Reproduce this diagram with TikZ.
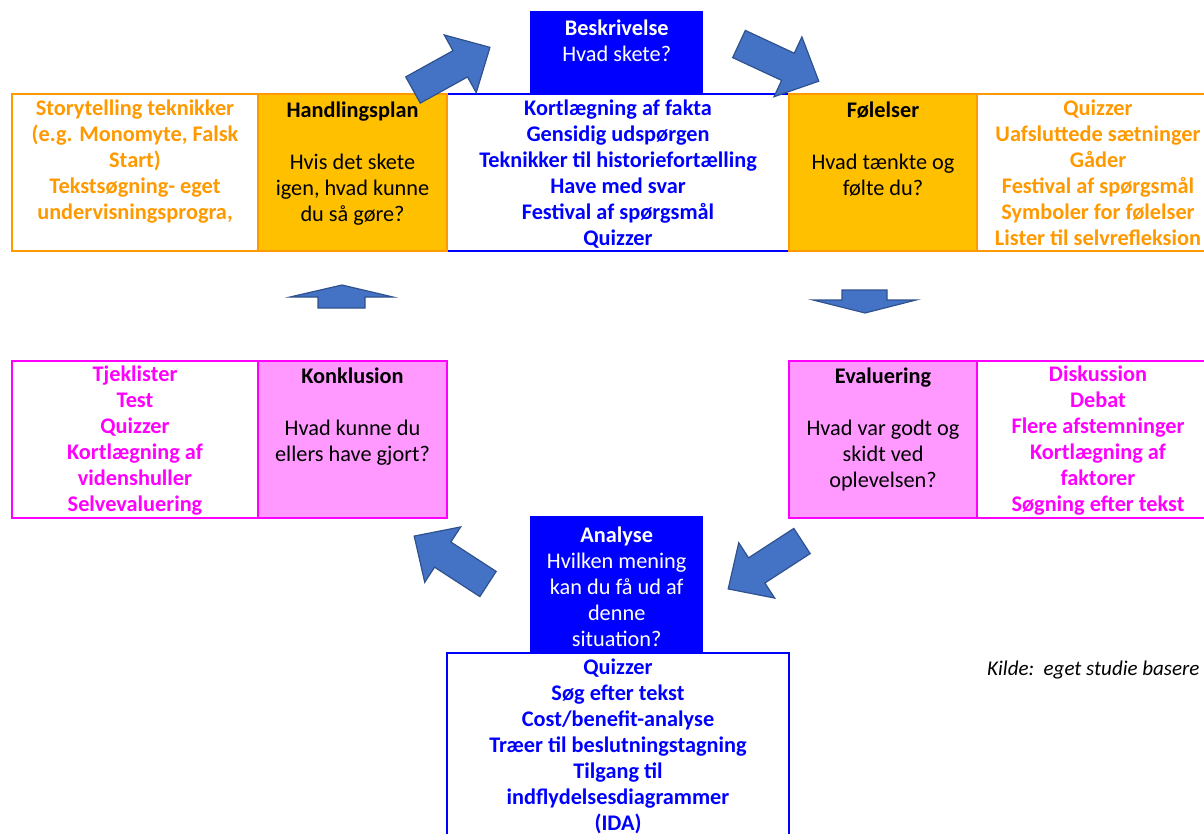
\documentclass[tikz,border=0pt]{standalone}
\usepackage{fontspec}
\setmainfont{Carlito}
\usetikzlibrary{positioning}

\definecolor{orangeline}{HTML}{FF9900}
\definecolor{goldfill}{HTML}{FFC000}
\definecolor{pinkfill}{HTML}{FF99FF}
\definecolor{magline}{HTML}{FF00FF}
\definecolor{blueline}{HTML}{0000FF}
\definecolor{arrowfill}{HTML}{4472C4}
\definecolor{arrowline}{HTML}{2F528F}

\tikzset{
  box/.style={line width=2pt, anchor=north west, inner sep=0pt, minimum height=157pt},
  orangebox/.style={box, draw=orangeline},
  magbox/.style={box, draw=magline},
  head/.style={fill=blueline, anchor=north west, inner sep=0pt, minimum width=173pt},
  txt/.style={font=\fontsize{22.3}{26}\selectfont, align=center, inner sep=0pt},
  listtxt/.style={txt, font=\bfseries\fontsize{22.3}{26}\selectfont},
  blockarrow/.pic={
    \draw[fill=arrowfill, draw=arrowline, line width=1.2pt, line join=miter]
      (0,-15) -- (54,-15) -- (54,-33) -- (88,0) -- (54,33) -- (54,15) -- (0,15) -- cycle;
  }
}

\begin{document}
\begin{tikzpicture}[x=1pt, y=-1pt]
\useasboundingbox (0,0) rectangle (1204,833);
\clip (0,0) rectangle (1204,833);

% top row
\node[box, draw=blueline, minimum width=342pt] (factbox) at (446,93) {};
\node[orangebox, minimum width=246pt] (storybox) at (11,93) {};
\node[orangebox, fill=goldfill, minimum width=189pt] (planbox) at (257,93) {};
\node[orangebox, fill=goldfill, minimum width=188pt] (feelbox) at (788,93) {};
\node[orangebox, minimum width=250pt] (quizbox) at (976,93) {};
\node[head, minimum height=82pt] (beskriv) at (530,11) {};

\node[listtxt, text=orangeline, below=7pt of storybox.north] (storytxt)
  {Storytelling teknikker\\(e.g. Monomyte, Falsk\\Start)\\Tekstsøgning- eget\\undervisningsprogra,};
\node[txt, below=9pt of planbox.north] (plantxt)
  {\textbf{Handlingsplan}\\[26pt]Hvis det skete\\igen, hvad kunne\\du så gøre?};
\node[listtxt, text=blueline, below=7pt of factbox.north] (facttxt)
  {Kortlægning af fakta\\Gensidig udspørgen\\Teknikker til historiefortælling\\Have med svar\\Festival af spørgsmål\\Quizzer};
\node[txt, below=9pt of feelbox.north] (feeltxt)
  {\textbf{Følelser}\\[26pt]Hvad tænkte og\\følte du?};
\node[listtxt, text=orangeline, below=7pt of quizbox.north, xshift=-4pt] (quiztxt)
  {Quizzer\\Uafsluttede sætninger\\Gåder\\Festival af spørgsmål\\Symboler for følelser\\Lister til selvrefleksion};
\node[txt, text=white, below=9pt of beskriv.north] (beskrivtxt)
  {\textbf{Beskrivelse}\\Hvad skete?};

% middle row
\node[magbox, minimum width=246pt] (checkbox) at (11,360) {};
\node[magbox, fill=pinkfill, minimum width=189pt] (konkbox) at (257,360) {};
\node[magbox, fill=pinkfill, minimum width=188pt] (evalbox) at (788,360) {};
\node[magbox, minimum width=250pt] (debatbox) at (976,360) {};

\node[listtxt, text=magline, below=6pt of checkbox.north] (checktxt)
  {Tjeklister\\Test\\Quizzer\\Kortlægning af\\videnshuller\\Selvevaluering};
\node[txt, below=8pt of konkbox.north] (konktxt)
  {\textbf{Konklusion}\\[26pt]Hvad kunne du\\ellers have gjort?};
\node[txt, below=8pt of evalbox.north] (evaltxt)
  {\textbf{Evaluering}\\[26pt]Hvad var godt og\\skidt ved\\oplevelsen?};
\node[listtxt, text=magline, below=6pt of debatbox.north, xshift=-4pt] (debattxt)
  {Diskussion\\Debat\\Flere afstemninger\\Kortlægning af\\faktorer\\Søgning efter tekst};

% bottom
\node[box, draw=blueline, minimum width=342pt, minimum height=200pt] (toolbox) at (446,652) {};
\node[head, minimum height=136pt] (analyse) at (530,516) {};
\node[txt, text=white, below=11pt of analyse.north] (analysetxt)
  {\textbf{Analyse}\\Hvilken mening\\kan du få ud af\\denne\\situation?};
\node[listtxt, text=blueline, below=7pt of toolbox.north] (tooltxt)
  {Quizzer\\Søg efter tekst\\Cost/benefit-analyse\\Træer til beslutningstagning\\Tilgang til\\indflydelsesdiagrammer\\(IDA)};

\node[txt, anchor=west, font=\itshape\fontsize{21}{26}\selectfont] (kilde) at (987,670)
  {Kilde:\ \ eget studie basere};

% block arrows
\pic[rotate=29] (toplarrow) at (413,90) {blockarrow};
\pic[rotate=-25] (toprarrow) at (739,44) {blockarrow};
\pic[rotate=213] (botrarrow) at (802,541) {blockarrow};
\pic[rotate=147] (botlarrow) at (488,584) {blockarrow};

\draw[fill=arrowfill, draw=arrowline, line width=1.2pt]
  (318,308) -- (318,297) -- (290,297) -- (342,285) -- (393,297) -- (365,297) -- (365,308) -- cycle;
\draw[fill=arrowfill, draw=arrowline, line width=1.2pt]
  (842,290) -- (842,300) -- (813,300) -- (865,313) -- (916,300) -- (887,300) -- (887,290) -- cycle;
\end{tikzpicture}
\end{document}
